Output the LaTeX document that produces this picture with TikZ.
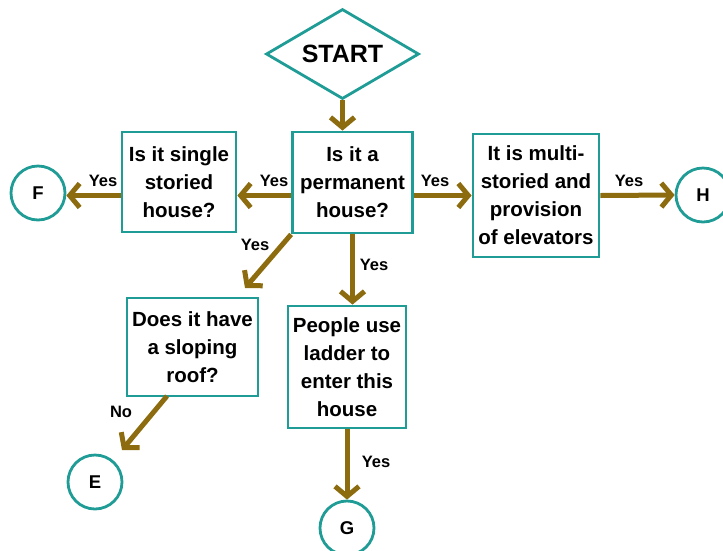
\documentclass[tikz,border=0pt]{standalone}
\usepackage{fontspec}
\setmainfont{Liberation Sans}
\usetikzlibrary{shapes.geometric,arrows.meta}
\definecolor{boxteal}{RGB}{32,156,150}
\definecolor{arrowgold}{RGB}{140,108,14}

\begin{document}
\begin{tikzpicture}[x=1pt,y=-1pt,
  box/.style={draw=boxteal,line width=2.8pt,fill=white,inner sep=0pt,align=center,
    font=\fontsize{20.5}{28}\selectfont\bfseries},
  startbox/.style={diamond,draw=boxteal,line width=2.8pt,inner sep=0pt,aspect=1.7,
    minimum width=153pt,minimum height=90pt,font=\fontsize{25}{30}\selectfont\bfseries},
  circ/.style={circle,draw=boxteal,line width=2.8pt,minimum size=54pt,inner sep=0pt,
    font=\fontsize{18.5}{22}\selectfont\bfseries},
  arr/.style={draw=arrowgold,line width=5pt,-{Straight Barb[length=10pt,width=24pt]}},
  lbl/.style={font=\fontsize{16.5}{20}\selectfont\bfseries,inner sep=0pt}]

\useasboundingbox (0,0) rectangle (723,550);

\node[startbox] (start) at (342.5,54) {START};

\node[box,minimum width=120pt,minimum height=101pt] (perm) at (352.5,182.5) {Is it a\\permanent\\house?};
\node[box,minimum width=114pt,minimum height=100pt] (single) at (179,182) {Is it single\\storied\\house?};
\node[box,minimum width=126pt,minimum height=123pt] (multi) at (536,195.5) {It is multi-\\storied and\\provision\\of elevators};
\node[box,minimum width=131pt,minimum height=98pt] (slope) at (192.5,347) {Does it have\\a sloping\\roof?};
\node[box,minimum width=118pt,minimum height=122pt] (ladder) at (347,367) {People use\\ladder to\\enter this\\house};

\node[circ] (F) at (38,193) {F};
\node[circ] (H) at (703,195) {H};
\node[circ] (G) at (347,528) {G};
\node[circ] (E) at (95,482) {E};

\coordinate (slopein) at (245,288);
\coordinate (roofout) at (167,396);
\coordinate (Ein) at (122,450);

\draw[arr] (start.south) -- (start.south |- perm.north);
\draw[arr] (perm.west |- multi.west) -- (single.east |- multi.west);
\draw[arr] (single.west |- multi.west) -- (F.east |- multi.west);
\draw[arr] (perm.east |- multi.west) -- (multi.west);
\draw[arr] (multi.east) -- (H.west);
\draw[arr] (perm.south west) -- (slopein);
\draw[arr] (perm.south) -- (perm.south |- ladder.north);
\draw[arr] (ladder.south) -- (G.north);
\draw[arr] (roofout) -- (Ein);

\node[lbl] (y1) at (103,181) {Yes};
\node[lbl] (y2) at (274,181) {Yes};
\node[lbl] (y3) at (435,181) {Yes};
\node[lbl] (y4) at (629,181) {Yes};
\node[lbl] (y5) at (255,245) {Yes};
\node[lbl] (y6) at (374,265) {Yes};
\node[lbl] (y7) at (376,462) {Yes};
\node[lbl] (n1) at (121,412) {No};

\end{tikzpicture}
\end{document}
